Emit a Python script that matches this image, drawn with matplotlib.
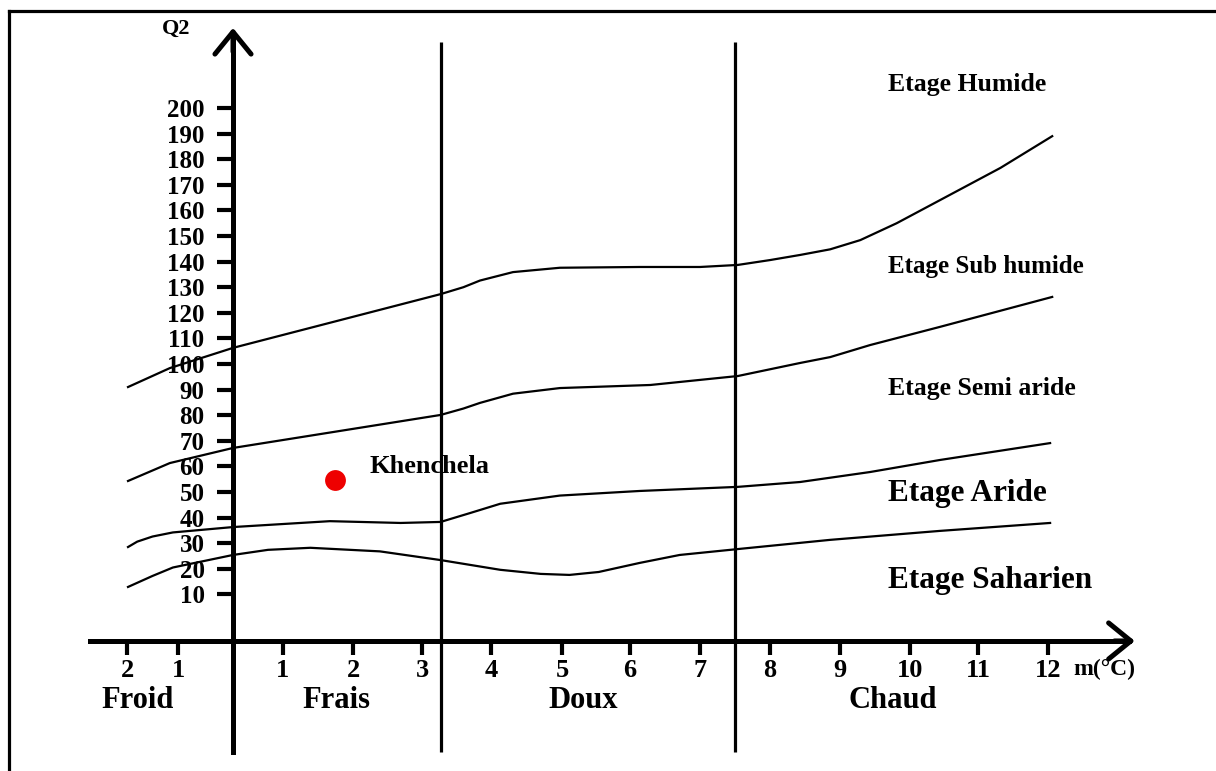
import numpy as np
import matplotlib.pyplot as plt
from matplotlib.lines import Line2D

plt.rcParams["font.family"] = ["Liberation Serif", "DejaVu Serif"]
plt.rcParams["font.weight"] = "bold"

# graduations de l'axe des m (°C) et leur place sur le dessin (echelle irreguliere)
M_KNOTS = [-6, -2, -1, 0, 1, 2, 3, 4, 5, 6, 7, 8, 9, 10, 11, 12, 16]
PX_KNOTS = [-77, 127, 178, 233, 283, 353, 422, 491, 562, 630, 700, 770, 840, 910, 978, 1048, 1328]

M_TICKS = [-2, -1, 1, 2, 3, 4, 5, 6, 7, 8, 9, 10, 11, 12]
M_LABELS = ["2", "1", "1", "2", "3", "4", "5", "6", "7", "8", "9", "10", "11", "12"]
Q_TICKS = [10, 20, 30, 40, 50, 60, 70, 80, 90, 100,
           110, 120, 130, 140, 150, 160, 170, 180, 190, 200]

# limites des variantes thermiques
ZONE_LIMITS = [3.27, 7.5]
ZONE_NAMES = ["Froid", "Frais", "Doux", "Chaud"]
ZONE_POS = [-1.8, 1.77, 5.31, 9.76]

# limites des etages bioclimatiques
humide_m = [-1.98, -1.16, 0, 3.27, 3.6, 3.84, 4.31, 4.97, 6.14, 7.0, 7.54, 8.0, 8.43, 8.86, 9.29, 9.81, 10.44, 11.32, 12.06]
humide_q = [91, 98.4, 106.3, 127.3, 130.0, 132.6, 135.9, 137.6, 137.9, 137.9, 138.7, 140.6, 142.6, 144.8, 148.4, 155, 164, 176.6, 189]

subhum_m = [-1.98, -1.16, 0, 3.27, 3.6, 3.84, 4.31, 4.97, 6.29, 7.54, 8.43, 8.86, 9.43, 10.44, 12.06]
subhum_q = [54.3, 61.3, 67.2, 80.1, 82.6, 84.8, 88.4, 90.6, 91.8, 95.3, 100.4, 102.7, 107.4, 114.5, 126.2]

semiar_m = [-1.98, -1.8, -1.5, -1.1, 0, 1.67, 2.69, 3.27, 3.7, 4.13, 4.97, 6.14, 7.54, 8.43, 9.43, 10.44, 12.03]
semiar_q = [28.5, 30.6, 32.6, 34.2, 36.3, 38.6, 37.9, 38.3, 41.8, 45.4, 48.6, 50.4, 52, 53.9, 57.8, 62.5, 69.1]

aride_m = [-1.98, -1.5, -1.1, 0, 0.7, 1.39, 2.39, 3.27, 4.13, 4.7, 5.11, 5.54, 6.14, 6.71, 7.54, 8.86, 10.44, 12.03]
aride_q = [12.9, 17.2, 20.5, 25.4, 27.4, 28.2, 26.8, 23.4, 19.6, 18.0, 17.6, 18.75, 22.3, 25.4, 27.7, 31.3, 34.8, 37.9]

ETAGES = ["Etage Humide", "Etage Sub humide", "Etage Semi aride", "Etage Aride", "Etage Saharien"]
ETAGES_Q = [209, 137.9, 90.6, 49.6, 15.6]
ETAGES_SIZE = [18.5, 18, 18.5, 22.5, 22.5]

station = "Khenchela"
station_m = 1.74
station_q = 54.7


def fwd(m):
    return np.interp(m, M_KNOTS, PX_KNOTS)


def inv(px):
    return np.interp(px, PX_KNOTS, M_KNOTS)


fig = plt.figure(figsize=(12.16, 7.71), dpi=100)
ax = fig.add_axes([0, 0, 1, 1])
ax.set_xscale("function", functions=(fwd, inv))
ax.set_xlim(inv(0), inv(1216))
ax.set_ylim(-59, 242.2)

x_axis_q = -8.2
for s in ["top", "right"]:
    ax.spines[s].set_visible(False)
ax.spines["left"].set_position(("data", 0))
ax.spines["bottom"].set_position(("data", x_axis_q))
ax.spines["left"].set_bounds(-51.6, 229)
ax.spines["bottom"].set_bounds(inv(90), 13.15)
ax.spines["left"].set_linewidth(3.6)
ax.spines["bottom"].set_linewidth(3.6)

ax.set_xticks(M_TICKS)
ax.set_xticklabels(M_LABELS)
ax.set_yticks(Q_TICKS)
ax.set_yticklabels([str(q) for q in Q_TICKS])
ax.tick_params(axis="x", direction="out", length=10, width=3, pad=3, labelsize=19)
ax.tick_params(axis="y", direction="out", length=11.5, width=3, pad=9, labelsize=18)

# fleches des axes
arrow = dict(arrowstyle="->,head_length=0.8,head_width=0.65", lw=3.6, color="black",
             mutation_scale=20, shrinkA=0, shrinkB=0)
ax.annotate("", xy=(0, 231.3), xytext=(0, 222), arrowprops=arrow)
ax.annotate("", xy=(13.24, x_axis_q), xytext=(12.95, x_axis_q), arrowprops=arrow)

# limites thermiques
for lim in ZONE_LIMITS:
    ax.plot([lim, lim], [-51.6, 225.8], color="black", lw=2.3, solid_capstyle="butt")

for curve_m, curve_q in [(humide_m, humide_q), (subhum_m, subhum_q),
                         (semiar_m, semiar_q), (aride_m, aride_q)]:
    ax.plot(curve_m, curve_q, color="black", lw=1.6)

ax.plot(station_m, station_q, "o", color="#ee0000", markersize=15, markeredgewidth=0)
ax.text(2.24, 59.8, station, fontsize=19, ha="left", va="center")

for name, q, size in zip(ETAGES, ETAGES_Q, ETAGES_SIZE):
    ax.text(9.69, q, name, fontsize=size, ha="left", va="center")

for name, pos in zip(ZONE_NAMES, ZONE_POS):
    ax.text(pos, -31.3, name, fontsize=22, ha="center", va="center")

ax.text(-1.04, 231, "Q2", fontsize=16, ha="center", va="center")
ax.text(12.36, -19.5, "m(°C)", fontsize=17, ha="left", va="center")

# cadre
fig.add_artist(Line2D([9 / 1216, 1.01], [1 - 11 / 771, 1 - 11 / 771],
                      transform=fig.transFigure, color="black", lw=2.3))
fig.add_artist(Line2D([9 / 1216, 9 / 1216], [1 - 11 / 771, -0.01],
                      transform=fig.transFigure, color="black", lw=2.3))

fig.savefig("out.png", dpi=100)
